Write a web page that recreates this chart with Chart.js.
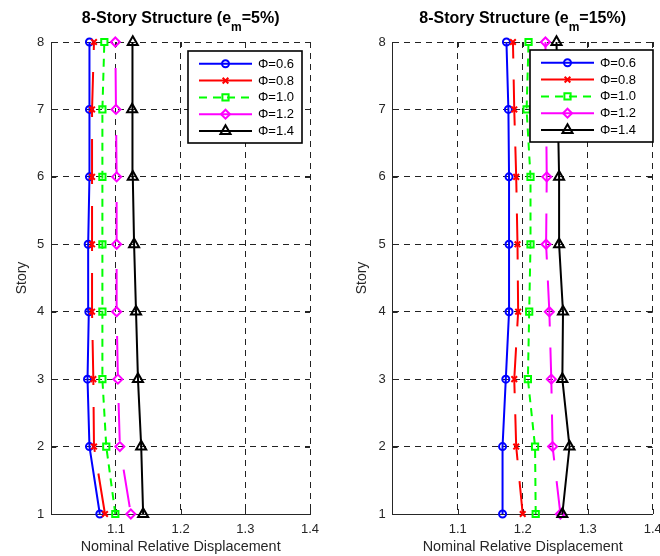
<!DOCTYPE html>
<html><head><meta charset="utf-8">
<script src="https://cdn.jsdelivr.net/npm/chart.js@4.4.1/dist/chart.umd.min.js"></script>
<style>
html,body{margin:0;padding:0;background:#fff;overflow:hidden;width:660px;height:556px;}
#wl{position:absolute;left:0;top:0;width:330px;height:556px;}
#wr{position:absolute;left:330px;top:0;width:350px;height:556px;}
canvas{display:block;}
</style></head><body>
<div id="wl"><canvas id="cl" width="330" height="556" style="width:330px;height:556px"></canvas></div>
<div id="wr"><canvas id="cr" width="350" height="556" style="width:350px;height:556px"></canvas></div>
<script>
// ---------- data ----------
const stories = [1, 2, 3, 4, 5, 6, 7, 8];
const yTicks = [1, 2, 3, 4, 5, 6, 7, 8];
const xTicks = [1.1, 1.2, 1.3, 1.4];
const seriesNames = ['Φ=0.6', 'Φ=0.8', 'Φ=1.0', 'Φ=1.2', 'Φ=1.4'];

// e_m = 5%  (story 1 .. 8)
const em5_phi06 = [1.075, 1.059, 1.056, 1.058, 1.057, 1.059, 1.059, 1.059];
const em5_phi08 = [1.083, 1.066, 1.065, 1.063, 1.063, 1.063, 1.063, 1.066];
const em5_phi10 = [1.099, 1.085, 1.079, 1.079, 1.079, 1.079, 1.079, 1.082];
const em5_phi12 = [1.123, 1.106, 1.103, 1.101, 1.101, 1.101, 1.100, 1.099];
const em5_phi14 = [1.142, 1.139, 1.134, 1.131, 1.128, 1.126, 1.125, 1.126];

// e_m = 15%  (story 1 .. 8)
const em15_phi06 = [1.169, 1.169, 1.174, 1.179, 1.179, 1.179, 1.178, 1.175];
const em15_phi08 = [1.200, 1.190, 1.187, 1.193, 1.192, 1.190, 1.187, 1.185];
const em15_phi10 = [1.220, 1.219, 1.208, 1.210, 1.212, 1.212, 1.206, 1.209];
const em15_phi12 = [1.258, 1.246, 1.244, 1.241, 1.236, 1.237, 1.236, 1.235];
const em15_phi14 = [1.261, 1.272, 1.261, 1.262, 1.256, 1.256, 1.254, 1.252];

// ---------- styles ----------
const FONT = "'Liberation Sans', Arial, Helvetica, sans-serif";
const AX = '#262626';
const styles = [
  {color: '#0000ff', pointStyle: 'circle',   radius: 3.5, legendDash: []},
  {color: '#ff0000', pointStyle: 'crossRot', radius: 4.0, legendDash: []},
  {color: '#00ff00', pointStyle: 'rect',     radius: 4.4, legendDash: [8, 6]},
  {color: '#ff00ff', pointStyle: 'rectRot',  radius: 4.5, legendDash: []},
  {color: '#000000', pointStyle: 'triangle', radius: 5.8, legendDash: []}
];
// line dash pattern per series, per panel
const dashLeft = [
  {dash: [], off: 0}, {dash: [45, 22], off: 4}, {dash: [8, 6], off: 0},
  {dash: [38, 29], off: -7}, {dash: [], off: 0}
];
const dashRight = [
  {dash: [], off: 0}, {dash: [46, 21], off: 13}, {dash: [8, 6], off: 0},
  {dash: [46, 21], off: 13}, {dash: [], off: 0}
];

function buildDatasets(seriesList, dashCfg) {
  return seriesList.map((vals, i) => ({
    label: seriesNames[i],
    data: stories.map((s, k) => ({x: vals[k], y: s})),
    showLine: true,
    borderColor: styles[i].color,
    backgroundColor: 'rgba(0,0,0,0)',
    borderWidth: 2,
    borderDash: dashCfg[i].dash,
    borderDashOffset: dashCfg[i].off,
    pointStyle: styles[i].pointStyle,
    pointRadius: styles[i].radius,
    pointHoverRadius: styles[i].radius,
    pointBorderWidth: 2,
    pointBorderColor: styles[i].color,
    pointBackgroundColor: 'rgba(0,0,0,0)',
    tension: 0,
    clip: false,
    order: -i
  }));
}

// ---------- plugins ----------
const titlePlugin = {
  id: 'matTitle',
  afterDraw(chart, args, opts) {
    const ctx = chart.ctx, ca = chart.chartArea;
    const cx = (ca.left + ca.right) / 2;
    ctx.save();
    const fMain = 'bold 16px ' + FONT, fSub = 'bold 12px ' + FONT;
    ctx.font = fMain; const w1 = ctx.measureText(opts.main).width;
    const w3 = ctx.measureText(opts.rest).width;
    ctx.font = fSub; const w2 = ctx.measureText(opts.sub).width;
    let x = cx - (w1 + w2 + w3) / 2;
    ctx.fillStyle = '#000';
    ctx.textBaseline = 'alphabetic';
    ctx.textAlign = 'left';
    ctx.font = fMain; ctx.fillText(opts.main, x, 23); x += w1;
    ctx.font = fSub; ctx.fillText(opts.sub, x, 31); x += w2;
    ctx.font = fMain; ctx.fillText(opts.rest, x, 23);
    ctx.restore();
  }
};

const innerTicksPlugin = {
  id: 'innerTicks',
  beforeDatasetsDraw(chart) {
    const ctx = chart.ctx, ca = chart.chartArea;
    const xs = chart.scales.x, ys = chart.scales.y;
    const L = 5;
    ctx.save();
    ctx.strokeStyle = AX; ctx.lineWidth = 1;
    ctx.beginPath();
    xTicks.forEach(v => {
      const px = Math.round(xs.getPixelForValue(v)) + 0.5;
      ctx.moveTo(px, ca.bottom); ctx.lineTo(px, ca.bottom - L);
      ctx.moveTo(px, ca.top); ctx.lineTo(px, ca.top + L);
    });
    yTicks.forEach(v => {
      const py = Math.round(ys.getPixelForValue(v)) + 0.5;
      ctx.moveTo(ca.left, py); ctx.lineTo(ca.left + L, py);
      ctx.moveTo(ca.right, py); ctx.lineTo(ca.right - L, py);
    });
    ctx.stroke();
    ctx.restore();
  }
};

const legendPlugin = {
  id: 'matLegend',
  afterDatasetsDraw(chart, args, opts) {
    const ctx = chart.ctx, b = opts.box;
    ctx.save();
    ctx.fillStyle = '#fff';
    ctx.fillRect(b.x, b.y, b.w, b.h);
    ctx.lineWidth = 1.6; ctx.strokeStyle = '#000';
    ctx.strokeRect(b.x, b.y, b.w, b.h);
    const rowY0 = b.y + 12.8, rowDy = 16.8;
    chart.data.datasets.forEach((ds, i) => {
      const st = styles[i];
      const y = rowY0 + i * rowDy;
      const x0 = b.x + 11, x1 = b.x + 64;
      ctx.save();
      ctx.strokeStyle = st.color; ctx.lineWidth = 2;
      ctx.setLineDash(st.legendDash);
      ctx.beginPath(); ctx.moveTo(x0, y); ctx.lineTo(x1, y); ctx.stroke();
      ctx.setLineDash([]);
      ctx.fillStyle = 'rgba(0,0,0,0)';
      ctx.lineWidth = 2;
      Chart.helpers.drawPoint(ctx, {pointStyle: st.pointStyle, radius: st.radius, borderWidth: 2, rotation: 0}, (x0 + x1) / 2, y);
      ctx.restore();
      ctx.fillStyle = '#000';
      ctx.font = '13px ' + FONT;
      ctx.textBaseline = 'middle';
      ctx.textAlign = 'left';
      ctx.fillText(ds.label, b.x + 70, y + 0.5);
    });
    ctx.restore();
  }
};

function makeChart(canvasId, seriesList, cfg) {
  return new Chart(document.getElementById(canvasId), {
    type: 'scatter',
    data: {datasets: buildDatasets(seriesList, cfg.dashCfg)},
    plugins: [innerTicksPlugin, legendPlugin, titlePlugin],
    options: {
      responsive: false,
      devicePixelRatio: 1,
      animation: false,
      events: [],
      layout: {padding: {top: 42, right: cfg.padRight, bottom: 0, left: 0}},
      plugins: {
        legend: {display: false},
        tooltip: {enabled: false},
        title: {display: false},
        matLegend: {box: cfg.legendBox},
        matTitle: {main: '8-Story Structure (e', sub: 'm', rest: cfg.titleRest}
      },
      scales: {
        x: {
          type: 'linear', position: 'bottom', min: 1.0, max: 1.4,
          afterBuildTicks: s => { s.ticks = xTicks.map(v => ({value: v})); },
          afterFit: s => { s.height = 42; },
          ticks: {color: AX, font: {family: FONT, size: 13}, padding: 8, maxRotation: 0, autoSkip: false,
                  callback: v => Number(v).toFixed(1)},
          grid: {color: '#222', lineWidth: 1, drawTicks: false},
          border: {display: true, color: AX, width: 1, dash: [6, 5]},
          title: {display: true, text: 'Nominal Relative Displacement', color: AX,
                  font: {family: FONT, size: 14.4}, padding: {top: 0, bottom: 0}}
        },
        y: {
          type: 'linear', position: 'left', min: 1, max: 8,
          afterBuildTicks: s => { s.ticks = yTicks.map(v => ({value: v})); },
          afterFit: s => { s.width = cfg.yWidth; },
          ticks: {color: AX, font: {family: FONT, size: 13}, padding: 7, autoSkip: false,
                  callback: v => String(v)},
          grid: {color: '#222', lineWidth: 1, drawTicks: false},
          border: {display: true, color: AX, width: 1, dash: [6, 5]},
          title: {display: true, text: 'Story', color: AX,
                  font: {family: FONT, size: 14}, padding: {top: cfg.yTitlePad, bottom: 0}}
        }
      }
    }
  });
}

makeChart('cl', [em5_phi06, em5_phi08, em5_phi10, em5_phi12, em5_phi14], {
  padRight: 20, yWidth: 51.3, yTitlePad: 13.6, titleRest: '=5%)', dashCfg: dashLeft,
  legendBox: {x: 188, y: 51, w: 114, h: 92}
});
makeChart('cr', [em15_phi06, em15_phi08, em15_phi10, em15_phi12, em15_phi14], {
  padRight: 27.3, yWidth: 62.7, yTitlePad: 23.6, titleRest: '=15%)', dashCfg: dashRight,
  legendBox: {x: 200, y: 50, w: 123, h: 92}
});
</script>
</body></html>
